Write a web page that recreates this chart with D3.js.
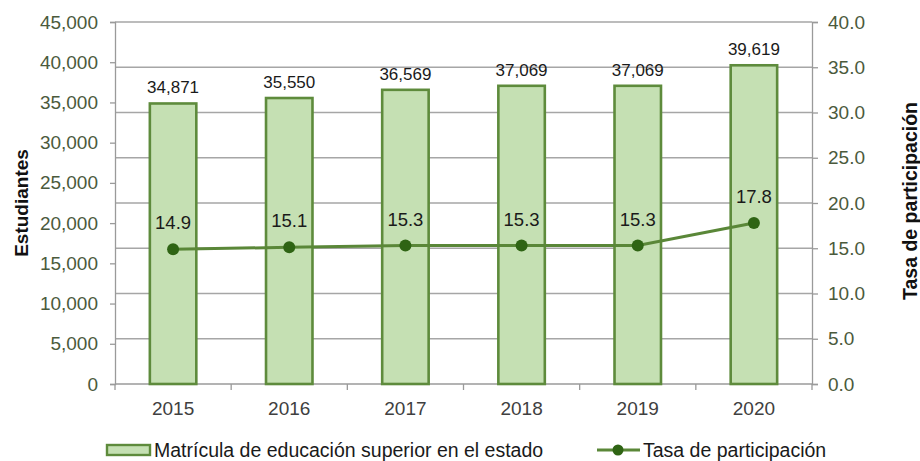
<!DOCTYPE html>
<html>
<head>
<meta charset="utf-8">
<script src="https://cdn.jsdelivr.net/npm/d3@7/dist/d3.min.js"></script>
<style>
  html, body { margin: 0; padding: 0; background: #fff; }
  svg { display: block; font-family: "Liberation Sans", Arial, sans-serif; }
</style>
</head>
<body>
<svg id="chart" width="920" height="461"></svg>
<script>
// Enrolment in higher education and participation rate, 2015–2020
const years = ["2015", "2016", "2017", "2018", "2019", "2020"];
const matricula = [34871, 35550, 36569, 37069, 37069, 39619];
const tasa = [14.9, 15.1, 15.3, 15.3, 15.3, 17.8];
const leftTicks = [0, 5000, 10000, 15000, 20000, 25000, 30000, 35000, 40000, 45000];
const rightTicks = [0, 5, 10, 15, 20, 25, 30, 35, 40];

const barLabel = "Matrícula de educación superior en el estado";
const lineLabel = "Tasa de participación";

const svg = d3.select("#chart");
const m = { left: 115, right: 812, top: 22, bottom: 384 };
const FONT = "'Liberation Sans', Arial, sans-serif";

const x = d3.scaleBand().domain(years).range([m.left, m.right]).paddingInner(0.6).paddingOuter(0.3);
const xEdge = d3.scaleBand().domain(years).range([m.left, m.right]);
const yL = d3.scaleLinear().domain([0, 45000]).range([m.bottom, m.top]);
const yR = d3.scaleLinear().domain([0, 40]).range([m.bottom, m.top]);

const axisGrey = "#9a9a9a";
const tickText = "#4b5a3c";
const barFill = "#c5e0b3";
const barStroke = "#5e8b3c";
const lineColor = "#5a8738";
const dotColor = "#2f6414";

// horizontal gridlines follow the right-hand scale
svg.append("g")
  .selectAll("line")
  .data(rightTicks.filter(d => d > 0))
  .join("line")
  .attr("x1", m.left).attr("x2", m.right)
  .attr("y1", d => yR(d)).attr("y2", d => yR(d))
  .attr("stroke", "#a6a6a6").attr("stroke-width", 1.3);

// left axis
const gL = svg.append("g").attr("transform", `translate(${m.left},0)`)
  .call(d3.axisLeft(yL).tickValues(leftTicks).tickFormat(d3.format(",")).tickSize(5).tickPadding(12));
// right axis
const gR = svg.append("g").attr("transform", `translate(${m.right},0)`)
  .call(d3.axisRight(yR).tickValues(rightTicks).tickFormat(d3.format(".1f")).tickSize(6).tickPadding(10));
[gL, gR].forEach(g => {
  g.select(".domain").attr("stroke", axisGrey).attr("stroke-width", 1.3);
  g.selectAll(".tick line").attr("stroke", axisGrey).attr("stroke-width", 1.3);
  g.selectAll(".tick text").attr("fill", tickText).style("font-size", "19px")
    .style("font-family", FONT);
});

// bottom axis: ticks at category boundaries
const bounds = years.map(d => xEdge(d)).concat([m.right]);
svg.append("line").attr("x1", m.left).attr("x2", m.right)
  .attr("y1", m.bottom).attr("y2", m.bottom)
  .attr("stroke", axisGrey).attr("stroke-width", 1.3);
svg.append("g").selectAll("line").data(bounds).join("line")
  .attr("x1", d => d).attr("x2", d => d)
  .attr("y1", m.bottom).attr("y2", m.bottom + 6)
  .attr("stroke", axisGrey).attr("stroke-width", 1.3);
svg.append("g").selectAll("text").data(years).join("text")
  .attr("x", d => x(d) + x.bandwidth() / 2).attr("y", 415)
  .attr("text-anchor", "middle").attr("fill", "#404040")
  .style("font-size", "19px").text(d => d);

// bars
svg.append("g").selectAll("rect").data(years).join("rect")
  .attr("x", d => x(d)).attr("width", x.bandwidth())
  .attr("y", (d, i) => yL(matricula[i]))
  .attr("height", (d, i) => yL(0) - yL(matricula[i]))
  .attr("fill", barFill).attr("stroke", barStroke).attr("stroke-width", 2.6);

svg.append("g").selectAll("text").data(years).join("text")
  .attr("x", d => x(d) + x.bandwidth() / 2)
  .attr("y", (d, i) => yL(matricula[i]) - 10)
  .attr("text-anchor", "middle").attr("fill", "#1a1a1a")
  .style("font-size", "17px")
  .text((d, i) => d3.format(",")(matricula[i]));

// participation line
const cx = d => x(d) + x.bandwidth() / 2;
svg.append("path")
  .datum(years)
  .attr("fill", "none").attr("stroke", lineColor).attr("stroke-width", 3)
  .attr("d", d3.line().x(d => cx(d)).y((d, i) => yR(tasa[i])));
svg.append("g").selectAll("circle").data(years).join("circle")
  .attr("cx", cx).attr("cy", (d, i) => yR(tasa[i])).attr("r", 6)
  .attr("fill", dotColor);
svg.append("g").selectAll("text").data(years).join("text")
  .attr("x", cx).attr("y", (d, i) => yR(tasa[i]) - 20)
  .attr("text-anchor", "middle").attr("fill", "#1a1a1a")
  .style("font-size", "18.5px")
  .text((d, i) => d3.format(".1f")(tasa[i]));

// axis titles
svg.append("text")
  .attr("transform", "translate(28,203) rotate(-90)")
  .attr("text-anchor", "middle").attr("font-weight", "bold")
  .style("font-size", "19px").attr("fill", "#111").text("Estudiantes");
svg.append("text")
  .attr("transform", "translate(917,201) rotate(-90)")
  .attr("text-anchor", "middle").attr("font-weight", "bold")
  .style("font-size", "19.5px").attr("fill", "#111").text(lineLabel);

// legend
const lg = svg.append("g");
lg.append("rect").attr("x", 107).attr("y", 445).attr("width", 43).attr("height", 10)
  .attr("fill", barFill).attr("stroke", barStroke).attr("stroke-width", 2.4);
lg.append("text").attr("x", 154).attr("y", 457).attr("fill", "#1a1a1a")
  .style("font-size", "19.5px").text(barLabel);
lg.append("line").attr("x1", 597).attr("x2", 640).attr("y1", 450).attr("y2", 450)
  .attr("stroke", lineColor).attr("stroke-width", 3);
lg.append("circle").attr("cx", 618).attr("cy", 450).attr("r", 5.5).attr("fill", dotColor);
lg.append("text").attr("x", 643).attr("y", 457).attr("fill", "#1a1a1a")
  .style("font-size", "19.5px").text(lineLabel);
</script>
</body>
</html>
